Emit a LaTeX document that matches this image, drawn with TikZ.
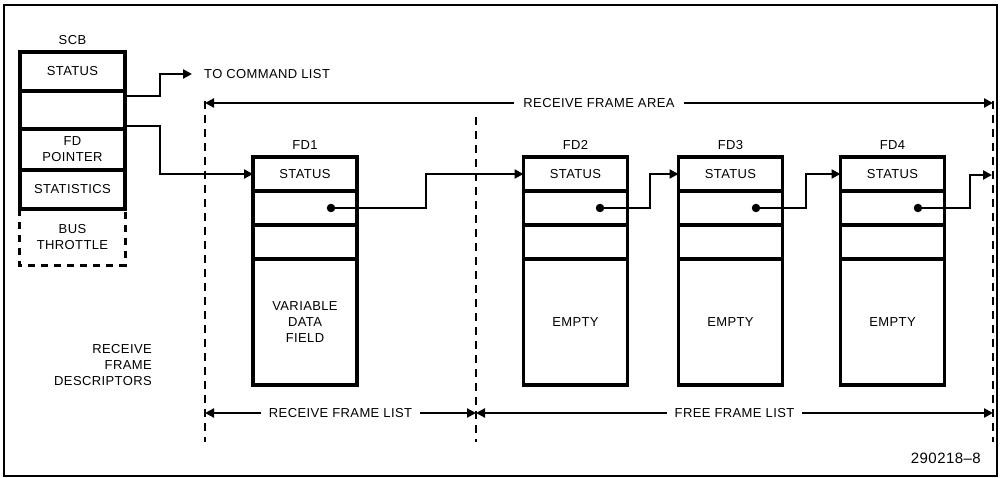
\documentclass[tikz,border=0pt]{standalone}
\usepackage{fontspec}
\setmainfont{Liberation Sans}[LetterSpace=3]
\usetikzlibrary{arrows.meta,calc}
\begin{document}
\begin{tikzpicture}[x=1pt,y=-1pt,
  every node/.style={font=\fontsize{13}{16}\selectfont, align=center},
  rowbox/.style={draw, line width=3.2pt, minimum width=104pt, inner sep=0pt, outer sep=0pt},
  scbbox/.style={rowbox, minimum width=105pt},
  conn/.style={line width=2.2pt, -{Triangle[length=9pt,width=9pt]}},
  dimline/.style={line width=2.2pt, {Triangle[length=9pt,width=9pt]}-{Triangle[length=9pt,width=9pt]}},
  dimlabel/.style={fill=white, inner xsep=9pt, inner ysep=2pt},
  dashline/.style={line width=2.8pt, dash pattern=on 8pt off 6pt},
  dotmark/.style={circle, fill, inner sep=0pt, minimum size=8.5pt},
  title/.style={inner sep=0pt}]
\useasboundingbox (0,0) rectangle (1001,478);
\draw[line width=1.3pt] (4,5) rectangle (997,476);

% SCB
\node[title] (scbt) at (72.5,40) {SCB};
\node[scbbox, minimum height=39pt] (scb1) at (72.5,71.5) {STATUS};
\node[scbbox, minimum height=38pt] (scb2) at (72.5,110) {};
\node[scbbox, minimum height=41pt] (scb3) at (72.5,149.5) {FD\\POINTER};
\node[scbbox, minimum height=39pt] (scb4) at (72.5,189.5) {STATISTICS};
\node[minimum width=105pt, minimum height=56pt, inner sep=0pt] (scb5) at (72.5,237) {BUS\\THROTTLE};
\draw[line width=2.8pt, dash pattern=on 7pt off 6pt] (scb5.north west) -- (scb5.south west) -- (scb5.south east) -- (scb5.north east);

\node[title, anchor=east, align=right] (rfd) at (152,365) {RECEIVE\\FRAME\\DESCRIPTORS};

% FD1
\node[title] (t1) at (305,145) {FD1};
\node[rowbox, minimum height=34pt] (s1) at (305,174) {STATUS};
\node[rowbox, minimum height=34pt] (p1) at (305,208) {};
\node[rowbox, minimum height=34pt] (e1) at (305,242) {};
\node[rowbox, minimum height=126pt] (d1) at (305,322) {VARIABLE\\DATA\\FIELD};
\node[dotmark] (dot1) at (331,208) {};

% FD2..FD4
\foreach \i/\x/\dx in {2/575.5/600, 3/730.5/756, 4/892.5/918} {
  \node[title] (t\i) at (\x,145) {FD\i};
  \node[rowbox, minimum height=34pt] (s\i) at (\x,174) {STATUS};
  \node[rowbox, minimum height=34pt] (p\i) at (\x,208) {};
  \node[rowbox, minimum height=34pt] (e\i) at (\x,242) {};
  \node[rowbox, minimum height=126pt] (d\i) at (\x,322) {EMPTY};
  \node[dotmark] (dot\i) at (\dx,208) {};
}

% dashed boundaries
\coordinate (Ltop) at (205,101);
\coordinate (Lbot) at (205,442);
\coordinate (Mtop) at (476,117);
\coordinate (Mbot) at (476,442);
\coordinate (Rtop) at (993,101);
\coordinate (Rbot) at (993,442);
\draw[dashline] (Ltop) -- (Lbot);
\draw[dashline] (Mtop) -- (Mbot);
\draw[dashline] (Rtop) -- (Rbot);

% dimension arrows
\coordinate (aL) at (205,103);
\coordinate (aR) at (993,103);
\draw[dimline] (aL) -- node[dimlabel] (area) {RECEIVE FRAME AREA} (aR);
\coordinate (bL) at (205,413);
\coordinate (bM) at (476,413);
\coordinate (bR) at (993,413);
\draw[dimline] (bL) -- node[dimlabel, inner xsep=8pt] (rfl) {RECEIVE FRAME LIST} (bM);
\draw[dimline] (bM) -- node[dimlabel, inner xsep=8pt] (ffl) {FREE FRAME LIST} (bR);

% SCB connectors
\node[title, anchor=west] (cmd) at (204,74) {TO COMMAND LIST};
\draw[conn] ([yshift=-5pt]scb2.north east) -- (160,96) |- ([xshift=-12pt]cmd.west);
\draw[conn] ([yshift=3pt]scb2.south east) -- (160,126) |- (s1.west);

% FD chain
\coordinate (out) at (992,175);
\draw[conn] (dot1.center) -- (426,208) |- (s2.west);
\draw[conn] (dot2.center) -- (650,208) |- (s3.west);
\draw[conn] (dot3.center) -- (806,208) |- (s4.west);
\draw[conn] (dot4.center) -- (970,208) |- (out);

\node[title, anchor=east, font=\fontsize{15}{18}\selectfont] (fig) at (981,458) {290218--8};
\end{tikzpicture}
\end{document}
